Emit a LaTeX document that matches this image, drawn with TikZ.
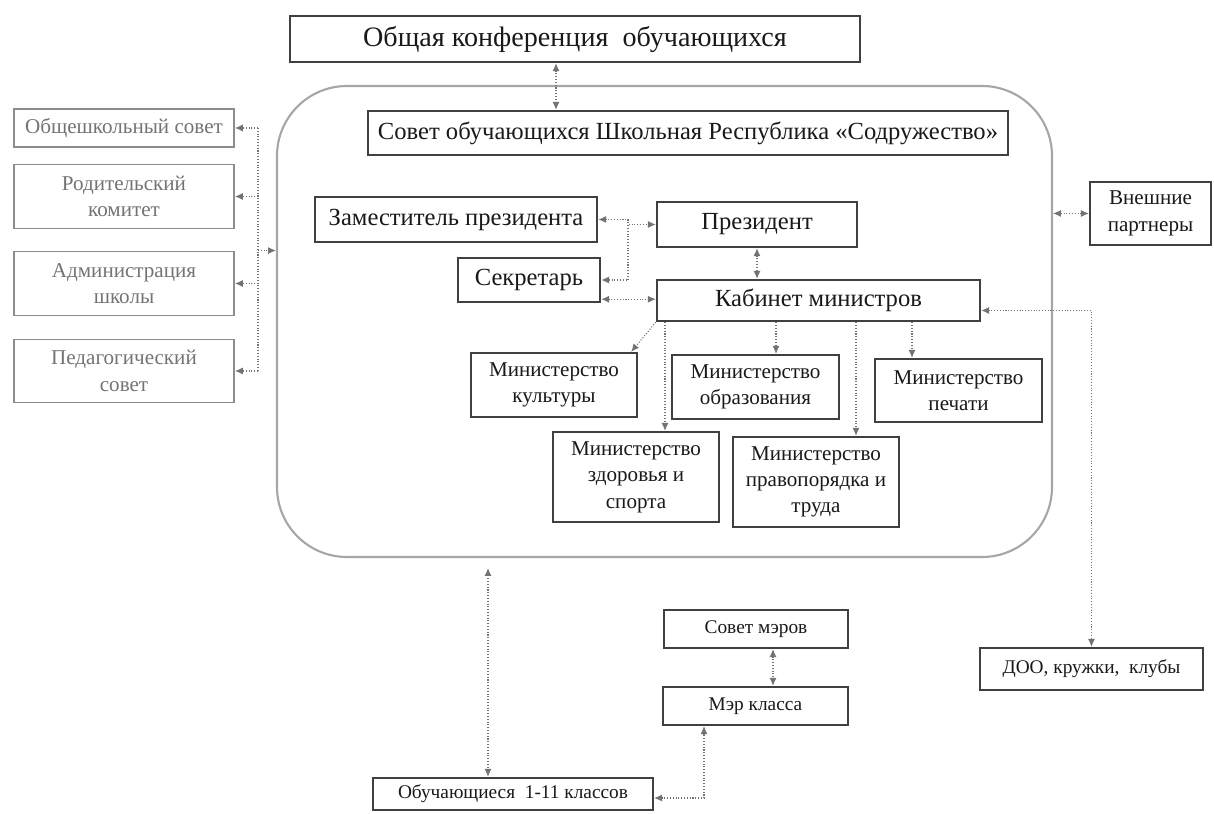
\documentclass[tikz,border=0pt]{standalone}
\usepackage{fontspec}
\setmainfont{Liberation Serif}
\usetikzlibrary{arrows.meta}

\begin{document}
\begin{tikzpicture}[x=0.02cm, y=-0.02cm, >={Latex[length=4.5pt, width=4pt]},
  wh/.style 2 args={minimum width=#1*0.02cm, minimum height=#2*0.02cm},
  box/.style={draw=black!75, line width=1.4pt, fill=white, align=center, inner sep=1pt,
    text=black!90, font=\fontsize{14}{16}\selectfont},
  mini/.style={box, line width=1.3pt, font=\fontsize{12}{15}\selectfont},
  side/.style={draw=black!45, line width=1.1pt, align=center, inner sep=1pt,
    text=black!55, font=\fontsize{12}{15}\selectfont},
  link/.style={draw=black!55, densely dotted, line width=0.6pt}]
  \useasboundingbox (0,0) rectangle (1214,814);

  % the school republic frame
  \node[draw=black!35, line width=1.2pt, rounded corners=1.4cm, wh={775}{471}] (rep) at (664.5,321.5) {};

  \node[box, wh={570}{46}, font=\fontsize{16}{18}\selectfont] (conf) at (575,39) {Общая конференция~ обучающихся};
  \node[box, wh={640}{44}] (council) at (688,133) {Совет обучающихся Школьная Республика «Содружество»};
  \node[box, wh={282}{45}] (vice) at (456,219.5) {Заместитель президента};
  \node[box, wh={200}{45}] (pres) at (757,224.5) {Президент};
  \node[box, wh={142}{44}] (secr) at (529,280) {Секретарь};
  \node[box, wh={323}{41}] (cab) at (818.5,300.5) {Кабинет министров};

  % ministries
  \node[mini, wh={166}{64}] (culture) at (554,385) {Министерство\\культуры};
  \node[mini, wh={167}{64}] (educ) at (755.5,387) {Министерство\\образования};
  \node[mini, wh={167}{63}] (press) at (958.5,390.5) {Министерство\\печати};
  \node[mini, wh={166}{90}] (health) at (636,477) {Министерство\\здоровья и\\спорта};
  \node[mini, wh={166}{90}] (law) at (816,482) {Министерство\\правопорядка и\\труда};

  % outside the frame
  \node[side, wh={220}{38}] (sch) at (124,128) {Общешкольный совет};
  \node[side, wh={220}{64}] (par) at (124,196.5) {Родительский\\комитет};
  \node[side, wh={220}{64}] (adm) at (124,283.5) {Администрация\\школы};
  \node[side, wh={220}{63}] (ped) at (124,371) {Педагогический\\совет};
  \node[mini, wh={121}{63}] (ext) at (1150.5,213.5) {Внешние\\партнеры};
  \node[mini, wh={223}{42}, font=\fontsize{11}{13}\selectfont] (doo) at (1091.5,669) {ДОО, кружки,~ клубы};
  \node[mini, wh={184}{38}, font=\fontsize{11}{13}\selectfont] (mayors) at (756,629) {Совет мэров};
  \node[mini, wh={185}{38}, font=\fontsize{11}{13}\selectfont] (mayor) at (755.5,706) {Мэр класса};
  \node[mini, wh={280}{32}, font=\fontsize{11}{13}\selectfont] (pupils) at (513,794) {Обучающиеся~ 1-11 классов};

  % connectors
  \draw[link, <->] (556,0 |- conf.south) -- (556,0 |- council.north);
  \draw[link, <->] (vice.east) -- (628,0 |- vice.east) |- (pres.west);
  \draw[link, ->] (628,0 |- vice.east) |- (secr.east);
  \draw[link, <->] (pres.south) -- (cab.north -| pres.south);
  \draw[link, <->] ([yshift=0.08cm]secr.south east) coordinate (s) -- (s -| cab.west);
  \draw[link, ->] (cab.south west) -- ([xshift=-0.14cm]culture.north east);
  \foreach \x/\m in {665/health, 776/educ, 856/law, 912/press}
    \draw[link, ->] (\x,0 |- cab.south) -- (\x,0 |- \m.north);
  \draw[link, <->] ([yshift=-0.2cm]cab.east) -| (doo.north);
  \draw[link, <->] (ext.west) -- (ext.west -| rep.east);
  \draw[link] (258,0 |- sch.east) -- (258,0 |- ped.east);
  \foreach \n in {sch, par, adm, ped}
    \draw[link, ->] (258,0 |- \n.east) -- (\n.east);
  \draw[link, ->] (258,0 |- adm.north) -- (adm.north -| rep.west);
  \draw[link, <->, shorten <=0.2cm] (488,0 |- rep.south) -- (488,0 |- pupils.north);
  \draw[link, <->] (773,0 |- mayors.south) -- (773,0 |- mayor.north);
  \draw[link, <->] ([yshift=-0.08cm]pupils.east) -| (704,0 |- mayor.south);
\end{tikzpicture}
\end{document}
